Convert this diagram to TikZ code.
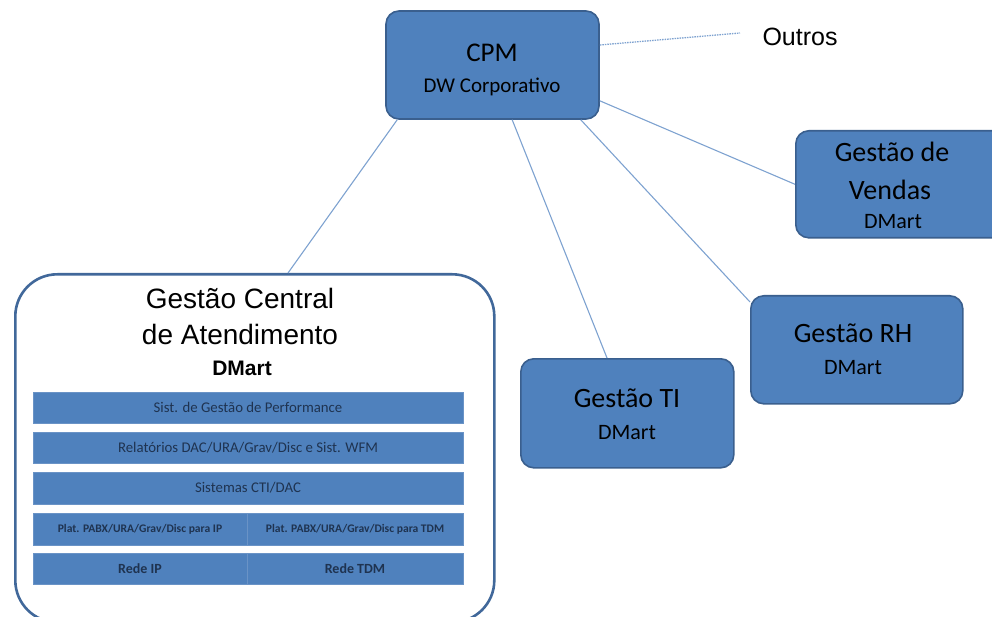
\documentclass[tikz,border=0pt]{standalone}
\usepackage{fontspec}
\setmainfont{Carlito}
\newfontfamily\arialf{Liberation Sans}
\definecolor{boxfill}{HTML}{4F81BD}
\definecolor{boxedge}{HTML}{3A5F8E}
\definecolor{bigedge}{HTML}{41689A}
\definecolor{linkc}{HTML}{7EA2D0}
\definecolor{layertext}{HTML}{1F3350}
\definecolor{layeredge}{HTML}{6A93C6}
\begin{document}
\begin{tikzpicture}[x=1pt,y=-1pt,
  box/.style={draw=boxedge, line width=1.6pt, fill=boxfill, rounded corners=13pt, inner sep=0pt},
  bigbox/.style={draw=bigedge, line width=2.6pt, fill=white, rounded corners=42pt, inner sep=0pt},
  layer/.style={draw=layeredge, fill=boxfill, line width=1pt, inner sep=0pt, text=layertext, font=\fontsize{14.8}{17}\selectfont},
  sublayer/.style={layer, font=\bfseries\fontsize{11.6}{13}\selectfont},
  rede/.style={layer, font=\bfseries\fontsize{14}{16}\selectfont},
  link/.style={draw=linkc, line width=1.1pt},
  dotlink/.style={draw=linkc, line width=1.3pt, dash pattern=on 1.5pt off 1pt},
  big/.style={inner sep=0pt, font=\fontsize{28}{32}\selectfont},
  small/.style={inner sep=0pt, font=\fontsize{22}{26}\selectfont},
  ttl/.style={inner sep=0pt, font=\arialf\fontsize{28}{32}\selectfont}
]
\path[use as bounding box] (0,0) rectangle (992,617);
\clip (0,0) rectangle (992,617);

% boxes
\node[box, minimum width=213pt, minimum height=108pt] (cpm) at (492.5,65) {};
\node[box, minimum width=212pt, minimum height=107pt, anchor=north west] (vendas) at (795,130) {};
\node[box, minimum width=212pt, minimum height=108pt, anchor=north west] (rh) at (750,295) {};
\node[box, minimum width=213pt, minimum height=109pt, anchor=north west] (ti) at (520,358) {};
\node[bigbox, minimum width=479pt, minimum height=348pt, anchor=north west] (gca) at (14,273) {};

% connectors
\draw[link] ([xshift=12pt]cpm.south west) -- ([xshift=274pt]gca.north west);
\draw[link] ([xshift=127pt]cpm.south west) -- ([xshift=87pt]ti.north west);
\draw[link] ([xshift=-19pt]cpm.south east) -- ([yshift=-7pt]rh.north west);
\draw[link] ([yshift=19pt]cpm.south east) -- (vendas.west);
\coordinate (outrosend) at (740,33);
\draw[dotlink] ([yshift=20pt]cpm.east) -- (outrosend);

% texts
\node[inner sep=0pt, font=\fontsize{27}{30}\selectfont] (cpmt) at (492,53) {CPM};
\node[inner sep=0pt, font=\fontsize{21}{24}\selectfont] (cpms) at (492,87) {DW Corporativo};
\node[inner sep=0pt, font=\arialf\fontsize{25}{28}\selectfont] (outros) at (800,37) {Outros};

\node[big] (v1) at (892,152) {Gestão de};
\node[big] (v2) at (890,190) {Vendas};
\node[small] (v3) at (893,222) {DMart};

\node[big] (rh1) at (853,333) {Gestão RH};
\node[small] (rh2) at (853,368) {DMart};

\node[big] (ti1) at (627,398) {Gestão TI};
\node[small] (ti2) at (627,433) {DMart};

\node[ttl] (g1) at (240,298) {Gestão Central};
\node[ttl] (g2) at (240,334) {de Atendimento};
\node[inner sep=0pt, font=\arialf\bfseries\fontsize{21}{24}\selectfont] (g3) at (242,368) {DMart};

% layers
\node[layer, minimum width=430pt, minimum height=31pt] (l1) at (248,407.5) {Sist. de Gestão de Performance};
\node[layer, minimum width=430pt, minimum height=31pt] (l2) at (248,447.5) {Relatórios DAC/URA/Grav/Disc e Sist. WFM};
\node[layer, minimum width=430pt, minimum height=32pt] (l3) at (248,488) {Sistemas CTI/DAC};
\node[sublayer, minimum width=214pt, minimum height=32pt] (l4a) at (140,529) {Plat. PABX/URA/Grav/Disc para IP};
\node[sublayer, minimum width=216pt, minimum height=32pt] (l4b) at (355,529) {Plat. PABX/URA/Grav/Disc para TDM};
\node[rede, minimum width=214pt, minimum height=31pt] (l5a) at (140,568.5) {Rede IP};
\node[rede, minimum width=216pt, minimum height=31pt] (l5b) at (355,568.5) {Rede TDM};
\end{tikzpicture}
\end{document}
